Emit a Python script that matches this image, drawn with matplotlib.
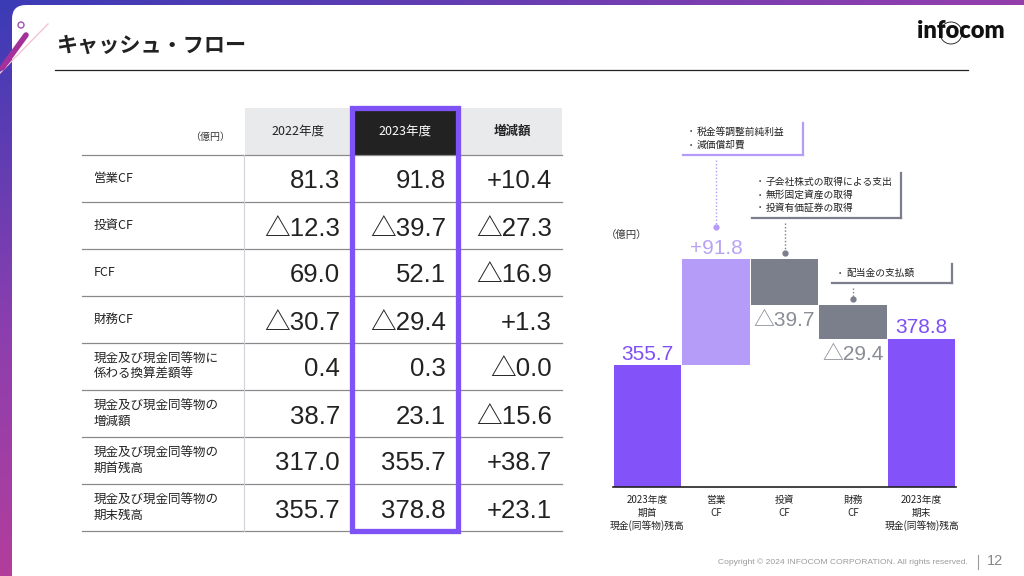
import math
import numpy as np
import matplotlib
matplotlib.use('Agg')
import matplotlib.pyplot as plt
from matplotlib.colors import LinearSegmentedColormap
from matplotlib.patches import FancyBboxPatch, Rectangle, Circle

plt.rcParams['font.family'] = ['Noto Sans CJK JP', 'DejaVu Sans']
JP = ['Noto Sans CJK JP', 'DejaVu Sans']
NUM = ['Liberation Sans', 'Noto Sans CJK JP']

# --- table data (億円) ---
col_heads = ['2022年度', '2023年度', '増減額']
row_labels = ['営業CF', '投資CF', 'FCF', '財務CF',
              '現金及び現金同等物に\n係わる換算差額等',
              '現金及び現金同等物の\n増減額',
              '現金及び現金同等物の\n期首残高',
              '現金及び現金同等物の\n期末残高']
fy2022 = [81.3, -12.3, 69.0, -30.7, 0.4, 38.7, 317.0, 355.7]
fy2023 = [91.8, -39.7, 52.1, -29.4, 0.3, 23.1, 355.7, 378.8]
change = [10.4, -27.3, -16.9, 1.3, -0.0, -15.6, 38.7, 23.1]

# --- waterfall data ---
wf_cats = ['2023年度\n期首\n現金(同等物)残高', '営業\nCF', '投資\nCF', '財務\nCF',
           '2023年度\n期末\n現金(同等物)残高']
wf_vals = [355.7, 91.8, -39.7, -29.4, 378.8]
wf_total = [True, False, False, False, True]
notes = [['税金等調整前純利益', '減価償却費'],
         ['子会社株式の取得による支出', '無形固定資産の取得', '投資有価証券の取得'],
         ['配当金の支払額']]

PURPLE = '#8352f8'
LIGHT = '#b59cf9'
GREY = '#7b7f8c'


def fmt(v, plus=False):
    s = f'{abs(v):.1f}'
    if math.copysign(1, v) < 0:
        return '△' + s
    return '+' + s if plus else s


fig = plt.figure(figsize=(10.24, 5.76), dpi=100)
bg = fig.add_axes([0, 0, 1, 1])
bg.set_xlim(0, 1024)
bg.set_ylim(576, 0)
bg.axis('off')

# background frame gradient + white card
xx, yy = np.meshgrid(np.linspace(0, 1, 256), np.linspace(0, 1, 144))
grad = np.clip(0.55 * xx + 0.85 * yy, 0, 1)
cmap = LinearSegmentedColormap.from_list('frame', ['#3b3bb6', '#8d3fae', '#c23d94'])
bg.imshow(grad, cmap=cmap, extent=(0, 1024, 576, 0), aspect='auto', zorder=0)
bg.add_patch(FancyBboxPatch((12, 5), 1100, 700, boxstyle='round,pad=0,rounding_size=14',
                            fc='white', ec='none', zorder=1))
bg.add_patch(Circle((21, 25), 3, fill=False, ec='#a050b0', lw=1, zorder=2))
bg.plot([0, 48], [73, 24], color='#f4c4d4', lw=1, zorder=2)
bg.plot([2, 26], [68, 35], color='#a4309c', lw=4, solid_capstyle='round', zorder=2)

# title + logo
bg.text(56, 45, 'キャッシュ・フロー', fontsize=15.2, fontweight='bold', va='center',
        color='#222222', zorder=3)
bg.plot([55, 968], [70, 70], color='#222222', lw=0.9, zorder=3)
bg.text(961, 31, 'infocom', family=['Lato', 'DejaVu Sans'], fontweight='heavy',
        fontsize=17, ha='center', va='center', color='#111111', zorder=3)
bg.add_patch(Circle((951, 33), 11, fill=False, ec='#111111', lw=0.6, zorder=3))

# --- table ---
row_h = 47
head_top, head_bot = 108, 155
bg.add_patch(Rectangle((245, head_top), 317, head_bot - head_top, fc='#e9eaec', ec='none', zorder=2))
bg.add_patch(Rectangle((354, 110), 102, head_bot - 110, fc='#222222', ec='none', zorder=2))
head_x = [297.5, 405, 512]
for j, h in enumerate(col_heads):
    bg.text(head_x[j], 131, h, fontsize=9, ha='center', va='center',
            color='white' if j == 1 else '#222222',
            fontweight='bold' if j == 2 else 'normal', zorder=3)
bg.text(230, 137, '（億円）', fontsize=7.2, ha='right', va='center', color='#333333', zorder=3)

n = len(row_labels)
for k in range(n + 1):
    y = head_bot + row_h * k
    bg.plot([82, 562], [y, y], color='#8a8a8a', lw=0.9, zorder=3)
bg.plot([244, 244], [head_bot, head_bot + row_h * n], color='#d0d0d6', lw=0.8, zorder=3)

num_x = [340, 446, 552]
for k in range(n):
    yc = head_bot + row_h * k + row_h / 2
    bg.text(94, yc, row_labels[k], fontsize=9, ha='left', va='center', color='#222222',
            linespacing=1.2, zorder=3)
    for j, (col, plus) in enumerate([(fy2022, False), (fy2023, False), (change, True)]):
        bg.text(num_x[j], yc + 3, fmt(col[k], plus), family=NUM, fontsize=18.5,
                ha='right', va='center', color='#222222', zorder=3)

bg.add_patch(Rectangle((351.5, 107.5), 106.5, 423.5, fill=False, ec='#7f52f5', lw=3.8, zorder=4))

# --- waterfall ---
ax = fig.add_axes([613 / 1024, (576 - 487) / 576, 343 / 1024, 257 / 576])
ax.set_zorder(5)
ax.patch.set_alpha(0)
bottoms, heights, colors = [], [], []
running = 0
for v, tot in zip(wf_vals, wf_total):
    if tot:
        bottoms.append(0)
        heights.append(v)
        colors.append(PURPLE)
        running = v
    else:
        bottoms.append(running if v > 0 else running + v)
        heights.append(abs(v))
        colors.append(LIGHT if v > 0 else GREY)
        running += v
x = np.arange(len(wf_vals))
ax.bar(x, heights, bottom=bottoms, width=0.985, color=colors)
ax.set_xlim(-0.5, len(wf_vals) - 0.5)
ax.set_ylim(250.5, 473)
for s in ['top', 'right', 'left']:
    ax.spines[s].set_visible(False)
ax.spines['bottom'].set_color('#222222')
ax.spines['bottom'].set_linewidth(1.2)
ax.set_yticks([])
ax.set_xticks(x)
ax.set_xticklabels(wf_cats, fontsize=7, color='#222222', linespacing=1.3)
ax.tick_params(axis='x', length=0, pad=6)

for i, v in enumerate(wf_vals):
    top = bottoms[i] + heights[i]
    if wf_total[i]:
        ax.annotate(fmt(v), (i, top), xytext=(0, 4), textcoords='offset points',
                    ha='center', va='baseline', fontsize=15, family=NUM, color='#7d4ff5')
    elif v > 0:
        ax.annotate(fmt(v, True), (i, top), xytext=(0, 4), textcoords='offset points',
                    ha='center', va='baseline', fontsize=15, family=NUM, color='#b9a2f6')
    else:
        ax.annotate(fmt(v), (i, bottoms[i]), xytext=(0, -4), textcoords='offset points',
                    ha='center', va='top', fontsize=15, family=NUM, color='#8a8c96')

bg.text(606, 235, '（億円）', fontsize=7.5, ha='left', va='center', color='#333333', zorder=3)

# callouts for the change bars
boxes = [(683, 123, 803, 155), (752, 173, 901, 218), (832, 264, 952, 283)]
dot_gap = [32, 6, 6]
fig.canvas.draw()
delta_idx = [i for i, t in enumerate(wf_total) if not t]
for b, i in enumerate(delta_idx):
    l, t, r, btm = boxes[b]
    c = colors[i]
    dx, dy = ax.transData.transform((i, bottoms[i] + heights[i]))
    dy = 576 - dy - dot_gap[b]
    bg.plot([r, r], [t, btm], color=c, lw=1.6, zorder=6)
    bg.plot([l, r], [btm, btm], color=c, lw=1.6, zorder=6)
    bg.plot([dx, dx], [btm + 5, dy], color=c, lw=1, ls=(0, (1, 1.5)), zorder=6)
    bg.plot(dx, dy, 'o', color=c, ms=3.5, zorder=6)
    for j, item in enumerate(notes[b]):
        yy_ = t + 8.5 + 13 * j
        bg.text(l + 7.5, yy_, '•', fontsize=5, ha='center', va='center', color='#333333', zorder=6)
        bg.text(l + 14, yy_, item, fontsize=7, ha='left', va='center', color='#222222', zorder=6)

# footer
bg.text(968, 562, 'Copyright © 2024 INFOCOM CORPORATION. All rights reserved.',
        family=['Liberation Sans', 'DejaVu Sans'], fontsize=6.1, ha='right', va='center',
        color='#9a9a9a', zorder=3)
bg.plot([978, 978], [555, 569], color='#9a9a9a', lw=0.8, zorder=3)
bg.text(1003, 561, '12', family=['Liberation Sans', 'DejaVu Sans'], fontsize=10.5,
        ha='right', va='center', color='#888888', zorder=3)

fig.savefig('out.png', dpi=100)
